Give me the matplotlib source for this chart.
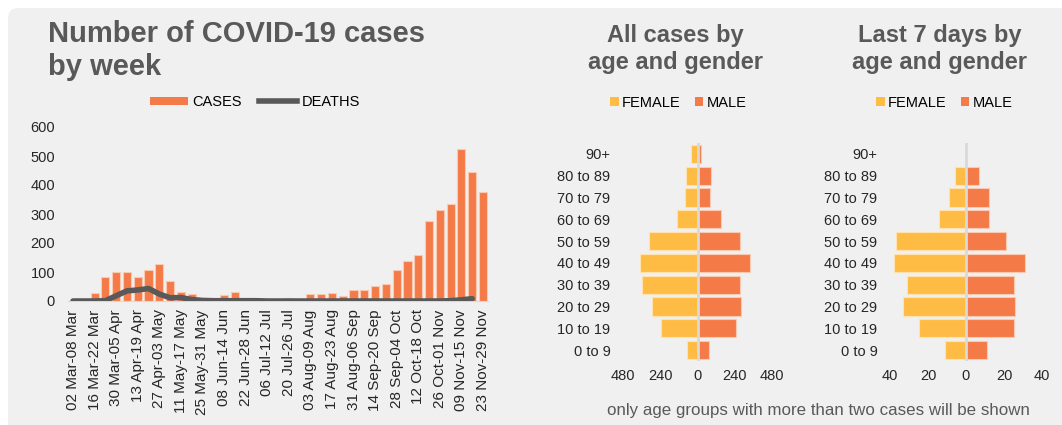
import matplotlib
matplotlib.use("Agg")
import matplotlib.pyplot as plt
from matplotlib.patches import FancyBboxPatch, Patch
from matplotlib.lines import Line2D
import numpy as np

plt.rcParams['font.family'] = ['Liberation Sans', 'DejaVu Sans']

# weekly data
week_labels = ["02 Mar-08 Mar", "09 Mar-15 Mar", "16 Mar-22 Mar", "23 Mar-29 Mar", "30 Mar-05 Apr",
               "06 Apr-12 Apr", "13 Apr-19 Apr", "20 Apr-26 Apr", "27 Apr-03 May", "04 May-10 May",
               "11 May-17 May", "18 May-24 May", "25 May-31 May", "01 Jun-07 Jun", "08 Jun-14 Jun",
               "15 Jun-21 Jun", "22 Jun-28 Jun", "29 Jun-05 Jul", "06 Jul-12 Jul", "13 Jul-19 Jul",
               "20 Jul-26 Jul", "27 Jul-02 Aug", "03 Aug-09 Aug", "10 Aug-16 Aug", "17 Aug-23 Aug",
               "24 Aug-30 Aug", "31 Aug-06 Sep", "07 Sep-13 Sep", "14 Sep-20 Sep", "21 Sep-27 Sep",
               "28 Sep-04 Oct", "05 Oct-11 Oct", "12 Oct-18 Oct", "19 Oct-25 Oct", "26 Oct-01 Nov",
               "02 Nov-08 Nov", "09 Nov-15 Nov", "16 Nov-22 Nov", "23 Nov-29 Nov"]
cases = [1, 2, 29, 84, 99, 100, 83, 108, 129, 69,
         30, 24, 5, 4, 21, 30, 10, 3, 3, 4,
         9, 3, 24, 23, 29, 17, 37, 39, 51, 60,
         106, 138, 157, 277, 314, 336, 524, 445, 376]
deaths = [0, 0, 0, 1, 18, 35, 38, 43, 24, 11,
          12, 5, 2, 1, 1, 1, 1, 1, 0, 0,
          0, 0, 0, 0, 0, 0, 0, 0, 0, 0,
          0, 0, 0, 0, 0, 1, 4, 8]

# age pyramids
age_groups = ["0 to 9", "10 to 19", "20 to 29", "30 to 39", "40 to 49",
              "50 to 59", "60 to 69", "70 to 79", "80 to 89", "90+"]
all_female = [67, 234, 296, 359, 372, 313, 132, 82, 74, 41]
all_male = [73, 246, 281, 272, 337, 272, 153, 82, 86, 24]
week_female = [11, 25, 33, 31, 38, 37, 14, 9, 6, 0]
week_male = [11, 25, 26, 25, 31, 21, 12, 12, 7, 0]

orange = '#F47A47'
yellow = '#FFBC45'
grey_txt = '#595959'
W, H = 1062, 425

fig = plt.figure(figsize=(W / 100, H / 100), dpi=100, facecolor='white')

# rounded grey panel
bg = FancyBboxPatch((0.08, -0.5), 11.0, 4.17 + 0.5, boxstyle="round,pad=0,rounding_size=0.1",
                    transform=fig.dpi_scale_trans, facecolor='#F0F0F0', edgecolor='none', zorder=-5)
fig.patches.append(bg)


def fbox(x0, y0, x1, y1):
    return [x0 / W, 1 - y1 / H, (x1 - x0) / W, (y1 - y0) / H]


# ---- weekly chart ----
ax = fig.add_axes(fbox(67.6, 127, 488.4, 301))
ax.set_facecolor('none')
x = np.arange(len(cases))
ax.bar(x, cases, width=0.75, color=orange, edgecolor='#F9C9B2', linewidth=0.8, zorder=2)
ax.plot(np.arange(len(deaths)), deaths, color='#595959', lw=4, solid_capstyle='round', zorder=3)
ax.set_xlim(-0.5, len(cases) - 0.5)
ax.set_ylim(0, 600)
ax.set_yticks(range(0, 601, 100))
ax.set_xticks(x[::2])
ax.set_xticklabels(week_labels[::2], rotation=90)
ax.tick_params(axis='both', length=0, labelsize=10.5, colors='#262626')
ax.tick_params(axis='x', labelsize=11, pad=6)
ax.tick_params(axis='y', pad=9)
for s in ['top', 'right', 'left']:
    ax.spines[s].set_visible(False)
ax.spines['bottom'].set_color('#D9D9D9')

fig.text(48 / W, 1 - 20 / H, "Number of COVID-19 cases\nby week", fontsize=21, fontweight='bold',
         color=grey_txt, ha='left', va='top', linespacing=1.22)
fig.legend(handles=[Patch(facecolor=orange, edgecolor='none'),
                    Line2D([0], [0], color='#595959', lw=4)],
           labels=['CASES', 'DEATHS'], loc='center', bbox_to_anchor=(255 / W, 1 - 102 / H),
           ncol=2, frameon=False, fontsize=10.5, handlelength=2.6, handleheight=0.5,
           columnspacing=1.2, handletextpad=0.3)


# ---- pyramids ----
def pyramid(x0, x1, female, male, lim, ticks, title, cx, leg_x):
    a = fig.add_axes(fbox(x0, 143, x1, 361))
    a.set_facecolor('none')
    y = np.arange(len(age_groups))
    a.barh(y, [-v for v in female], height=0.84, color=yellow, edgecolor='#FFE2B0', linewidth=0.8, zorder=2)
    a.barh(y, male, height=0.84, color=orange, edgecolor='#F9C9B2', linewidth=0.8, zorder=2)
    a.axvline(0, color='#D9D9D9', lw=2, zorder=3)
    a.set_xlim(-lim, lim)
    a.set_ylim(-0.5, len(age_groups) - 0.5)
    a.set_yticks(y)
    a.set_yticklabels(age_groups)
    a.set_xticks(ticks)
    a.set_xticklabels([str(abs(t)) for t in ticks])
    a.tick_params(axis='both', length=0, labelsize=10.5, colors='#262626')
    a.tick_params(axis='y', pad=9)
    a.tick_params(axis='x', pad=6)
    for s in a.spines.values():
        s.set_visible(False)
    fig.text(cx / W, 1 - 24 / H, title, fontsize=17, fontweight='bold', color=grey_txt,
             ha='center', va='top', linespacing=1.25)
    fig.legend(handles=[Patch(facecolor=yellow), Patch(facecolor=orange)],
               labels=['FEMALE', 'MALE'], loc='center', bbox_to_anchor=(leg_x / W, 1 - 103 / H),
               ncol=2, frameon=False, fontsize=10.5, handlelength=0.6, handleheight=0.6,
               columnspacing=1.0, handletextpad=0.2)


pyramid(623, 772, all_female, all_male, 480, [-480, -240, 0, 240, 480],
        "All cases by\nage and gender", 675, 678)
pyramid(890, 1042, week_female, week_male, 40, [-40, -20, 0, 20, 40],
        "Last 7 days by\nage and gender", 940, 944)

fig.text(818 / W, 1 - 410 / H, "only age groups with more than two cases will be shown",
         fontsize=12.2, color=grey_txt, ha='center', va='center')

fig.savefig("out.png", dpi=100, facecolor=fig.get_facecolor())
